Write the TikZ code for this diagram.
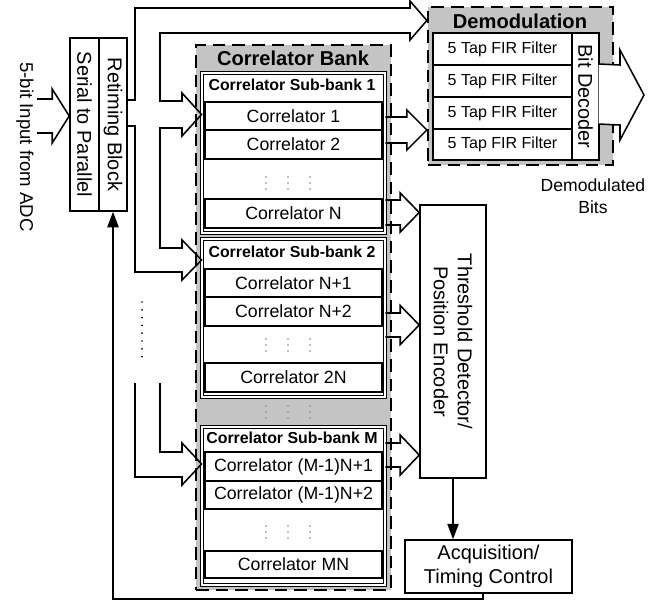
\documentclass[tikz,border=0pt]{standalone}
\usepackage{fontspec}
\setmainfont{Liberation Sans}
\usetikzlibrary{arrows.meta,calc,fit}
\definecolor{bankgray}{RGB}{196,196,196}
% hollow block arrow: [style] tail, tip, half shaft, half head, head length
\newcommand{\fatarrow}[6][]{%
	\draw[fatline,#1] ($(#2)+(0,-#4)$) -- ($(#3)+(-#6,-#4)$) -- ($(#3)+(-#6,-#5)$) -- (#3)
		-- ($(#3)+(-#6,#5)$) -- ($(#3)+(-#6,#4)$) -- ($(#2)+(0,#4)$);}
\tikzset{
	blk/.style={draw, line width=1.1pt, inner sep=0pt, fill=white},
	subbank/.style={draw, line width=0.6pt, double=white, double distance=1.1pt, inner sep=0pt, fill=white},
	grp/.style={draw, fill=bankgray, line width=1.6pt, dash pattern=on 9pt off 5pt, inner sep=0pt},
	fatline/.style={line width=1.1pt, line join=miter},
	corr/.style={font=\fontsize{12.6}{14}\selectfont},
	fir/.style={font=\fontsize{11.4}{13}\selectfont},
	subt/.style={font=\fontsize{11.3}{13}\selectfont\bfseries},
	bigt/.style={font=\fontsize{14.3}{16}\selectfont\bfseries},
	blkt/.style={font=\fontsize{14.2}{17}\selectfont, align=center},
	tip/.style={-{Triangle[length=11pt,width=8pt]}, line width=1.1pt},
}
\begin{document}
\begin{tikzpicture}[x=0.025cm, y=-0.025cm]
	\useasboundingbox (0,0) rectangle (656,601);
	% input side
	\node[blk, fit={(70,38) (99,211)}] (sp) {};
	\node[blk, fit={(99,38) (127,211)}] (ret) {};
	\node[blkt, rotate=-90] at (sp) {Serial to Parallel};
	\node[blkt, rotate=-90] at (ret) {Retiming Block};
	\node[font=\fontsize{13.2}{15}\selectfont, rotate=-90] at (25,147) {5-bit Input from ADC};
	\coordinate (adc) at (37,116);
	\fatarrow{adc}{sp.west |- 0,116}{17}{27}{17}
	
	% correlator bank
	\node[grp, fit={(196,45) (391,590)}] (bank) {};
	\node[bigt] at (293,58) {Correlator Bank};
	\node[subbank, fit={(202,73) (385,233)}] (sb1) {};
	\node[subbank, fit={(202,239) (385,397)}] (sb2) {};
	\node[subbank, fit={(202,427) (385,585)}] (sbM) {};
	\node[subt] at (292,85) {Correlator Sub-bank 1};
	\node[subt] at (292,252) {Correlator Sub-bank 2};
	\node[subt] at (292,438) {Correlator Sub-bank M};
	\foreach \nm/\ya/\yb/\txt in {c1/102/130/Correlator 1, c2/130/159/Correlator 2, cN/199/228/Correlator N,
		cNa/269/297/Correlator N+1, cNb/297/326/Correlator N+2, cNN/363/392/Correlator 2N,
		cMa/452/481/Correlator (M-1)N+1, cMb/481/509/Correlator (M-1)N+2, cMN/551/578/Correlator MN}{
		\node[blk, fit={(205,\ya) (382,\yb)}] (\nm) {};
		\node[corr] at (\nm) {\txt};
	}
	\foreach \yc in {183,345,412,532}
		\foreach \xc in {266,288,310}
			\foreach \d in {-6,0,6}
				\fill[gray] (\xc,{\yc+\d}) circle (0.6pt);
	
	% demodulation
	\node[grp, fit={(428,7) (613,165)}] (demod) {};
	\node[bigt] at (520,21) {Demodulation};
	\foreach \i/\ya/\yb in {1/33/65,2/65/97,3/97/129,4/129/160}{
		\node[blk, fit={(433,\ya) (572,\yb)}] (fir\i) {};
		\node[fir] at (fir\i) {5 Tap FIR Filter};
	}
	\node[blk, fit={(572,33) (599,160)}] (bitdec) {};
	\node[blkt, rotate=-90] at (bitdec) {Bit Decoder};
	\coordinate (bdout) at (598.5,94);
	\coordinate (bits) at (644,95);
	\fatarrow[fill=white]{bdout}{bits}{30}{45}{24}
	\node[font=\fontsize{12.5}{15.5}\selectfont, align=center] at (593,196) {Demodulated\\Bits};
	
	% threshold / acquisition
	\node[blk, fit={(420,205) (486,478)}] (thr) {};
	\node[blkt, rotate=-90] at (thr) {Threshold Detector/\\Position Encoder};
	\node[blk, fit={(405,540) (572,593)}] (acq) {};
	\node[blkt] at (acq) {Acquisition/\\Timing Control};
	
	\fatarrow{sb1.east |- 0,130}{demod.west |- 0,130}{13}{20}{20}
	\fatarrow{sb1.east |- 0,212.5}{thr.west |- 0,212.5}{12.5}{19.5}{19}
	\fatarrow{sb2.east |- 0,325}{thr.west |- 0,325}{12}{19.5}{19}
	\fatarrow{sbM.east |- 0,455}{thr.west |- 0,455}{12}{20}{19}
	
	% parallel bus to demodulation and sub-banks
	\draw[fatline] (ret.east |- 0,100) -- (135,100) -- (135,8) -- (410,8) -- (410,1) -- (demod.west |- 0,20.5)
		-- (410,40) -- (410,33) -- (160,33) -- (160,101) -- (182,101) -- (182,93) -- (sb1.west |- 0,114.5)
		-- (182,136) -- (182,128) -- (160,128) -- (160,248) -- (182,248) -- (182,240) -- (sb2.west |- 0,260)
		-- (182,280) -- (182,272) -- (135,272) -- (135,126) -- (ret.east |- 0,126);
	\draw[fatline] (135,383) -- (135,477) -- (182,477) -- (182,485) -- (sbM.west |- 0,464)
		-- (182,443) -- (182,452) -- (160,452) -- (160,383);
	\foreach \k in {0,...,7}
		\fill (142,{302+\k*7.8}) circle (0.7pt);
	
	\draw[tip] (thr.south) -- (thr.south |- acq.north);
	\draw[tip] ([xshift=-4pt]acq.south) -- ++(0,5) -| (ret.south);
\end{tikzpicture}
\end{document}
